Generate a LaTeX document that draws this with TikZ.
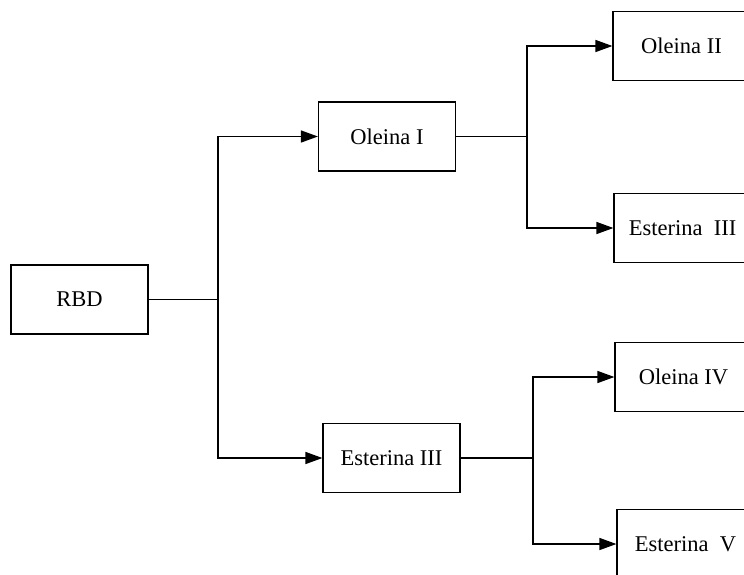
\documentclass[tikz,border=0pt]{standalone}
\usepackage{fontspec}
\setmainfont{Liberation Serif}
\usetikzlibrary{arrows.meta}
\usetikzlibrary{positioning}
\tikzset {
  % plain connector
  link/.style = {
    draw = black,
    line width = 1.4pt
  },
  % connector ending in a filled head
  arr/.style = {
    link,
    -{Triangle[length = 17pt, width = 12pt]}
  }
}
\tikzset {
  % fraction box
  frac/.style = {
    draw = black,
    line width = 1.2pt,
    rectangle,
    minimum width = 137pt,
    minimum height = 69pt,
    inner sep = 0,
    font = \fontsize{22.5}{26}\selectfont
  }
}
\begin{document}
\begin{tikzpicture}[x = 1pt, y = -1pt]
    \useasboundingbox (0,0) rectangle (744,574);
    \clip (0,0) rectangle (744,574);

    \node[frac] (rbd) at (79.5,299.5) {RBD};
    \node[frac] (ol1) at (387,136.5) {Oleina I};
    \node[frac] (es3) at (391.5,458) {Esterina III};
    \node[frac] (ol2) at (681.5,46) {Oleina II};
    \node[frac] (es3b) at (682.5,228) {Esterina\ \ III};
    \node[frac] (ol4) at (683.5,377) {Oleina IV};
    \node[frac] (es5) at (685.5,544) {Esterina\ \ V};

    \coordinate (split1) at (218,299.5);
    \coordinate (split2) at (527,136.5);
    \coordinate (split3) at (533,458);

    \draw[link] (rbd) -- (split1);
    \draw[arr] (split1) |- (ol1);
    \draw[arr] (split1) |- (es3);
    \draw[link] (ol1) -- (split2);
    \draw[arr] (split2) |- (ol2);
    \draw[arr] (split2) |- (es3b);
    \draw[link] (es3) -- (split3);
    \draw[arr] (split3) |- (ol4);
    \draw[arr] (split3) |- (es5);
  \end{tikzpicture}
\end{document}
